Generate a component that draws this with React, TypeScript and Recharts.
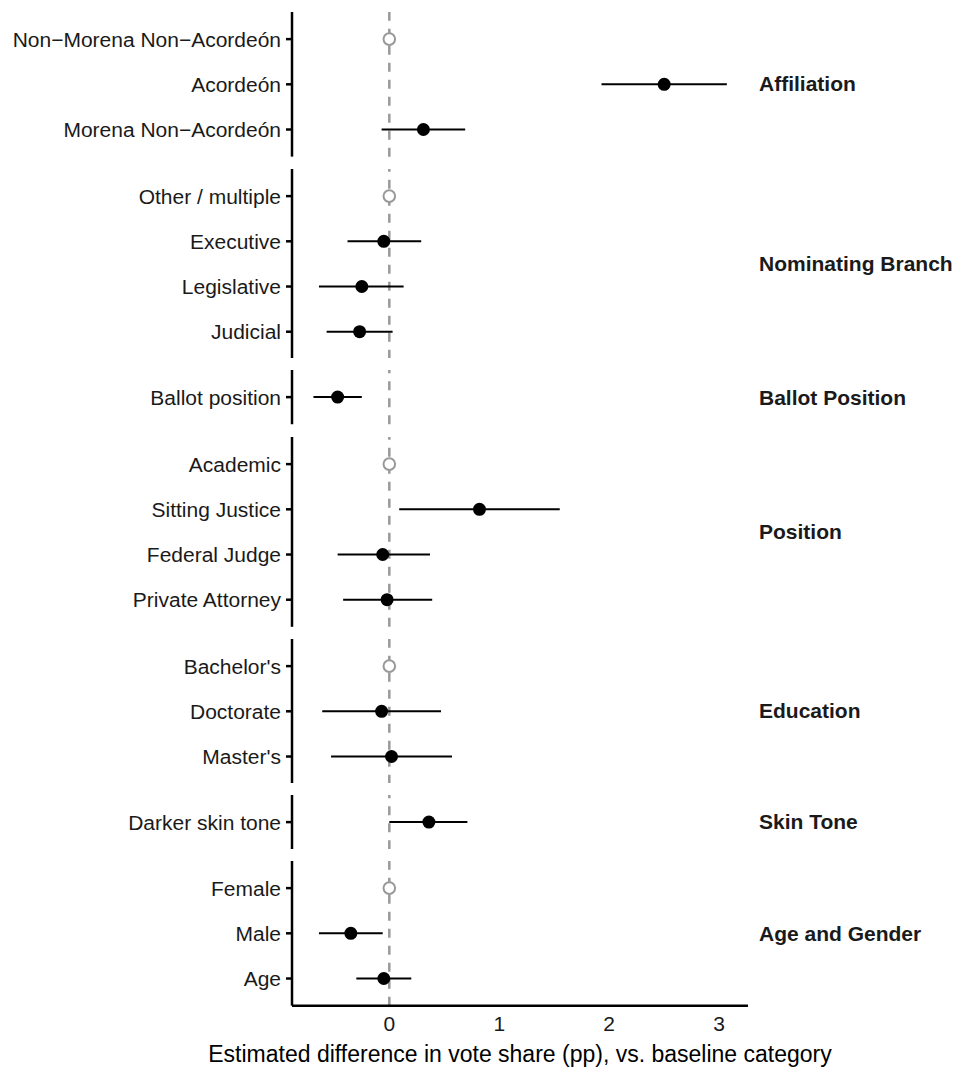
import { ScatterChart, Scatter, XAxis, YAxis, ReferenceLine, ErrorBar } from 'recharts';

const groups = ['Affiliation', 'Nominating Branch', 'Ballot Position', 'Position', 'Education', 'Skin Tone', 'Age and Gender'];

const terms = [
  'Non\u2212Morena Non\u2212Acorde\u00f3n', 'Acorde\u00f3n', 'Morena Non\u2212Acorde\u00f3n',
  'Other / multiple', 'Executive', 'Legislative', 'Judicial',
  'Ballot position',
  'Academic', 'Sitting Justice', 'Federal Judge', 'Private Attorney',
  "Bachelor's", 'Doctorate', "Master's",
  'Darker skin tone',
  'Female', 'Male', 'Age',
];

const termGroup = [0, 0, 0, 1, 1, 1, 1, 2, 3, 3, 3, 3, 4, 4, 4, 5, 6, 6, 6];

const isBaseline = [
  true, false, false,
  true, false, false, false,
  false,
  true, false, false, false,
  true, false, false,
  false,
  true, false, false,
];

const estimates = [0, 2.5, 0.31, 0, -0.05, -0.25, -0.27, -0.47, 0, 0.82, -0.06, -0.02, 0, -0.07, 0.02, 0.36, 0, -0.35, -0.05];
const lower = [0, 1.93, -0.07, 0, -0.38, -0.64, -0.57, -0.69, 0, 0.09, -0.47, -0.42, 0, -0.61, -0.53, 0.0, 0, -0.64, -0.3];
const upper = [0, 3.07, 0.69, 0, 0.29, 0.13, 0.03, -0.25, 0, 1.55, 0.37, 0.39, 0, 0.47, 0.57, 0.71, 0, -0.06, 0.2];

const xTicks = [0, 1, 2, 3];
const xTitle = 'Estimated difference in vote share (pp), vs. baseline category';

const FONT = '"Liberation Sans", Arial, sans-serif';
const ROW = 45.2;
const GAP = 12;
const X_DOMAIN = [-0.885, 3.262];

function buildFacet(g) {
  const idx = terms.map((_, i) => i).filter((i) => termGroup[i] === g);
  const rows = idx.map((i, k) => ({
    term: terms[i],
    y: k,
    x: estimates[i],
    err: [estimates[i] - lower[i], upper[i] - estimates[i]],
    base: isBaseline[i],
  }));
  return {
    name: groups[g],
    labels: rows.map((r) => r.term),
    base: rows.filter((r) => r.base),
    est: rows.filter((r) => !r.base),
  };
}

const facets = groups.map((_, g) => buildFacet(g));

const Dot = (p) => <circle cx={p.cx} cy={p.cy} r={6.5} fill="#000" />;
const OpenDot = (p) => <circle cx={p.cx} cy={p.cy} r={5.8} fill="#fff" stroke="#999" strokeWidth={2} />;

function Facet({ f, last }) {
  const n = f.labels.length;
  const panelH = (n + 0.2) * ROW;
  const axisH = last ? 34 : 0;
  return (
    <div style={{ display: 'flex', marginTop: GAP }}>
      <ScatterChart width={740} height={panelH + axisH} margin={{ top: 0, right: 0, bottom: 0, left: 0 }}>
        <XAxis
          type="number"
          dataKey="x"
          domain={X_DOMAIN}
          allowDataOverflow
          ticks={xTicks}
          hide={!last}
          height={axisH}
          tickLine={false}
          axisLine={{ stroke: '#000', strokeWidth: 2.5 }}
          tick={{ fontSize: 21, fill: '#1a1a1a', fontFamily: FONT }}
          tickMargin={4}
        />
        <YAxis
          type="number"
          dataKey="y"
          domain={[-0.6, n - 0.4]}
          allowDataOverflow
          reversed
          ticks={f.labels.map((_, k) => k)}
          interval={0}
          tickFormatter={(v) => f.labels[v]}
          width={284}
          tickSize={6}
          tickMargin={5}
          axisLine={{ stroke: '#000', strokeWidth: 2.5 }}
          tickLine={{ stroke: '#000', strokeWidth: 2.5 }}
          tick={{ fontSize: 21, fill: '#1a1a1a', fontFamily: FONT }}
        />
        <ReferenceLine x={0} stroke="#999" strokeWidth={2.5} strokeDasharray="9 8" />
        <Scatter data={f.est} isAnimationActive={false} shape={Dot}>
          <ErrorBar dataKey="err" direction="x" width={0} stroke="#000" strokeWidth={2} />
        </Scatter>
        <Scatter data={f.base} isAnimationActive={false} shape={OpenDot} />
      </ScatterChart>
      <div
        style={{
          height: panelH,
          display: 'flex',
          alignItems: 'center',
          paddingLeft: 11,
          fontFamily: FONT,
          fontWeight: 'bold',
          fontSize: 21,
          color: '#1a1a1a',
          whiteSpace: 'nowrap',
        }}
      >
        {f.name}
      </div>
    </div>
  );
}

export default function App() {
  return (
    <div style={{ width: 960, background: '#fff' }}>
      <div style={{ marginTop: 4 - GAP }}>
        {facets.map((f, g) => (
          <Facet key={f.name} f={f} last={g === facets.length - 1} />
        ))}
      </div>
      <div
        style={{
          width: 700,
          marginLeft: 162,
          textAlign: 'center',
          fontFamily: FONT,
          fontSize: 23,
          color: '#000',
          lineHeight: '28px',
          whiteSpace: 'nowrap',
        }}
      >
        {xTitle}
      </div>
    </div>
  );
}
